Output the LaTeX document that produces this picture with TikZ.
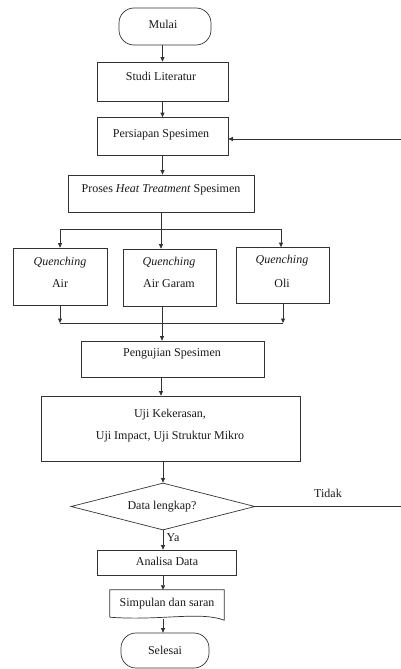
\documentclass[tikz,border=0pt]{standalone}
\usepackage{fontspec}
\setmainfont{Liberation Serif}
\usetikzlibrary{arrows.meta,shapes.geometric}
\begin{document}
\begin{tikzpicture}[x=1pt,y=-1pt,
  ln/.style={draw=black!80,line width=0.7pt},
  arr/.style={ln,-{Triangle[length=4.5pt,width=4pt]}},
  box/.style={ln,rectangle,inner sep=0pt},
  term/.style={ln,rectangle,rounded corners=15pt,inner sep=0pt},
  txt/.style={inner sep=0pt,anchor=base,font=\fontsize{12}{14}\selectfont,text=black!90}]
\useasboundingbox (0,0) rectangle (401,669);
% shapes
\node[term,minimum width=92pt,minimum height=37pt] (mulai) at (165,26.5) {};
\node[box,minimum width=131pt,minimum height=39pt] (studi) at (162.5,81.5) {};
\node[box,minimum width=131pt,minimum height=38pt] (persiapan) at (162.5,136.5) {};
\node[box,minimum width=186pt,minimum height=37pt] (proses) at (161,193.5) {};
\node[box,minimum width=94pt,minimum height=57pt] (qair) at (60,276.5) {};
\node[box,minimum width=93pt,minimum height=57pt] (qgaram) at (169.5,277.5) {};
\node[box,minimum width=93pt,minimum height=56pt] (qoli) at (282.5,275.5) {};
\node[box,minimum width=183pt,minimum height=36pt] (pengujian) at (172.5,359) {};
\node[box,minimum width=259pt,minimum height=65pt] (uji) at (170.5,428.5) {};
\node[ln,diamond,inner sep=0pt,minimum width=184pt,minimum height=47pt,aspect=3.9] (dat) at (163,506.5) {};
\node[box,minimum width=139pt,minimum height=25pt] (analisa) at (166.5,562.5) {};
\node[inner sep=0pt,minimum width=114pt,minimum height=27pt] (simpulan) at (167,603.5) {};
\draw[ln] (simpulan.south west) -- (simpulan.north west) -- (simpulan.north east) -- ([yshift=-3pt]simpulan.south east)
  .. controls (200,611) and (160,621) .. (simpulan.south west);
\node[term,minimum width=88pt,minimum height=35pt] (selesai) at (165,650.5) {};
% texts
\node[txt] (t1) at (163,29) {Mulai};
\node[txt] (t2) at (161,81) {Studi Literatur};
\node[txt] (t3) at (161,137) {Persiapan Spesimen};
\node[txt] (t4) at (161,192) {Proses \textit{Heat Treatment} Spesimen};
\node[txt] (t5) at (60,265) {\textit{Quenching}};
\node[txt] (t6) at (60,287) {Air};
\node[txt] (t7) at (169,265) {\textit{Quenching}};
\node[txt] (t8) at (169,287) {Air Garam};
\node[txt] (t9) at (282,263) {\textit{Quenching}};
\node[txt] (t10) at (282,287) {Oli};
\node[txt] (t11) at (172,356) {Pengujian Spesimen};
\node[txt] (t12) at (170,417) {Uji Kekerasan,};
\node[txt] (t13) at (170,439) {Uji Impact, Uji Struktur Mikro};
\node[txt] (t14) at (162,509) {Data lengkap?};
\node[txt] (t15) at (328,497) {Tidak};
\node[txt] (t16) at (173,541) {Ya};
\node[txt] (t17) at (167,565) {Analisa Data};
\node[txt] (t18) at (167,606) {Simpulan dan saran};
\node[txt] (t19) at (165,654) {Selesai};
% connectors
\coordinate (bl) at (60,229);
\coordinate (bm) at (161,229);
\coordinate (br) at (281,229);
\coordinate (ml) at (60,323);
\coordinate (mr) at (283,323);
\coordinate (gx) at (162,0);
\coordinate (rin) at (401,139);
\coordinate (rout) at (401,506.5);
\draw[arr] (mulai.south -| studi.north) -- (studi.north);
\draw[arr] (studi) -- (persiapan);
\draw[arr] (persiapan) -- (persiapan.south |- proses.north);
\draw[ln] (proses.south) -- (bm);
\draw[ln] (bl) -- (br);
\draw[arr] (bl) -- (qair.north);
\draw[arr] (bm) -- (qgaram.north -| bm);
\draw[arr] (br) -- (qoli.north -| br);
\draw[arr] (qair.south) -- (ml);
\draw[arr] (qoli.south -| mr) -- (mr);
\draw[ln] (ml) -- (mr);
\draw[arr] (qgaram.south -| gx) -- (pengujian.north -| gx);
\draw[arr] (pengujian.south -| 161,0) -- (uji.north -| 161,0);
\draw[arr] (uji.south -| dat.north) -- (dat.north);
\draw[arr] (dat.south) -- (analisa.north -| dat.south);
\draw[arr] (analisa.south -| dat.south) -- (simpulan.north -| dat.south);
\draw[arr] ([yshift=-2pt]simpulan.south -| dat.south) -- (selesai.north -| dat.south);
\draw[ln] (dat.east) -- (rout);
\draw[arr] (rin) -- (rin -| persiapan.east);
\end{tikzpicture}
\end{document}
